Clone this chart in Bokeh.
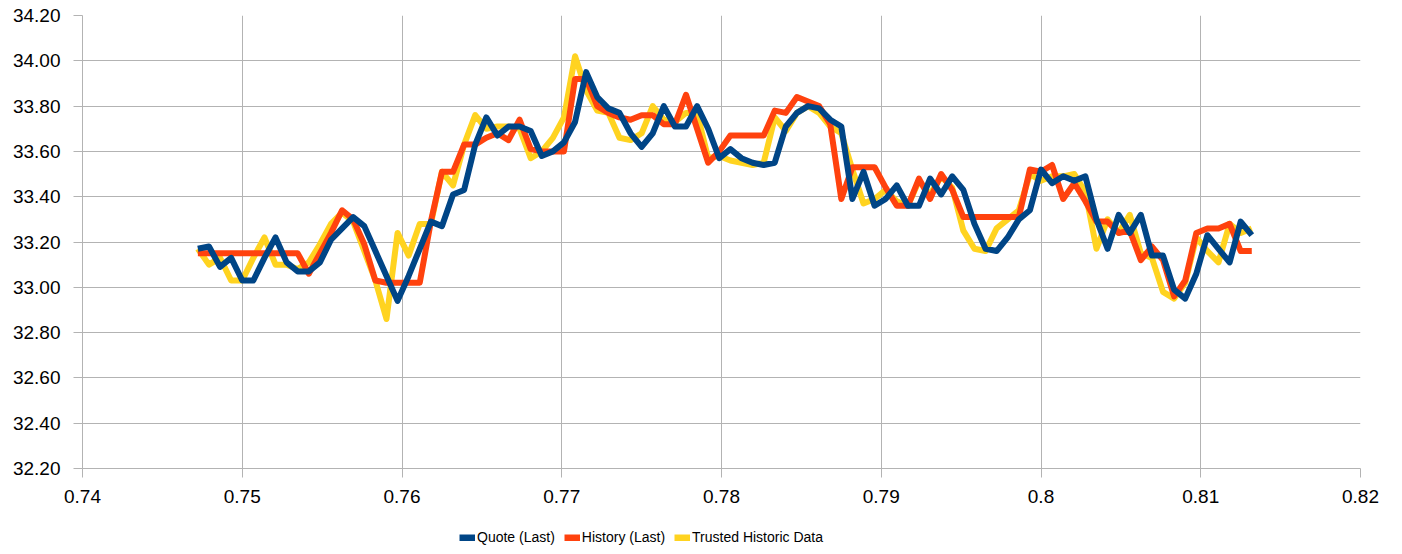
from bokeh.plotting import figure
from bokeh.layouts import column
from bokeh.models import Range1d, FixedTicker, CustomJSTickFormatter, Legend, LegendItem, ColumnDataSource
from bokeh.embed import file_html
from bokeh.resources import INLINE

# x values: fraction of day (one-minute samples)
x_vals = [0.747222, 0.747917, 0.748611, 0.749306, 0.750000, 0.750694, 0.751389, 0.752083,
          0.752778, 0.753472, 0.754167, 0.754861, 0.755556, 0.756250, 0.756944, 0.757639,
          0.758333, 0.759028, 0.759722, 0.760417, 0.761111, 0.761806, 0.762500, 0.763194,
          0.763889, 0.764583, 0.765278, 0.765972, 0.766667, 0.767361, 0.768056, 0.768750,
          0.769444, 0.770139, 0.770833, 0.771528, 0.772222, 0.772917, 0.773611, 0.774306,
          0.775000, 0.775694, 0.776389, 0.777083, 0.777778, 0.778472, 0.779167, 0.779861,
          0.780556, 0.781250, 0.781944, 0.782639, 0.783333, 0.784028, 0.784722, 0.785417,
          0.786111, 0.786806, 0.787500, 0.788194, 0.788889, 0.789583, 0.790278, 0.790972,
          0.791667, 0.792361, 0.793056, 0.793750, 0.794444, 0.795139, 0.795833, 0.796528,
          0.797222, 0.797917, 0.798611, 0.799306, 0.800000, 0.800694, 0.801389, 0.802083,
          0.802778, 0.803472, 0.804167, 0.804861, 0.805556, 0.806250, 0.806944, 0.807639,
          0.808333, 0.809028, 0.809722, 0.810417, 0.811111, 0.811806, 0.812500, 0.813194]

quote_last = [33.17, 33.18, 33.09, 33.13, 33.03, 33.03, 33.13, 33.22, 33.11, 33.07,
              33.07, 33.11, 33.21, 33.26, 33.31, 33.27, 33.16, 33.05, 32.94, 33.05,
              33.17, 33.29, 33.27, 33.41, 33.43, 33.63, 33.75, 33.67, 33.71, 33.71,
              33.69, 33.58, 33.60, 33.64, 33.73, 33.95, 33.84, 33.79, 33.77, 33.68,
              33.62, 33.68, 33.80, 33.71, 33.71, 33.80, 33.70, 33.57, 33.61, 33.57,
              33.55, 33.54, 33.55, 33.71, 33.77, 33.80, 33.79, 33.74, 33.71, 33.39,
              33.51, 33.36, 33.39, 33.45, 33.36, 33.36, 33.48, 33.41, 33.49, 33.43,
              33.28, 33.17, 33.16, 33.22, 33.30, 33.34, 33.52, 33.46, 33.49, 33.47,
              33.49, 33.30, 33.17, 33.32, 33.24, 33.32, 33.14, 33.14, 32.99, 32.95,
              33.06, 33.23, 33.17, 33.11, 33.29, 33.23]

history_last = [33.15, 33.15, 33.15, 33.15, 33.15, 33.15, 33.15, 33.15, 33.15, 33.15,
                33.06, 33.15, 33.24, 33.34, 33.30, 33.19, 33.03, 33.02, 33.02, 33.02,
                33.02, 33.29, 33.51, 33.51, 33.63, 33.63, 33.66, 33.68, 33.65, 33.74,
                33.61, 33.60, 33.60, 33.60, 33.92, 33.92, 33.80, 33.77, 33.75, 33.74,
                33.76, 33.76, 33.72, 33.72, 33.85, 33.70, 33.55, 33.60, 33.67, 33.67,
                33.67, 33.67, 33.78, 33.77, 33.84, 33.82, 33.80, 33.72, 33.39, 33.53,
                33.53, 33.53, 33.44, 33.36, 33.36, 33.48, 33.39, 33.50, 33.43, 33.31,
                33.31, 33.31, 33.31, 33.31, 33.31, 33.52, 33.51, 33.54, 33.39, 33.46,
                33.38, 33.29, 33.29, 33.24, 33.25, 33.12, 33.18, 33.12, 32.96, 33.03,
                33.24, 33.26, 33.26, 33.28, 33.16, 33.16]

trusted_hist = [33.17, 33.10, 33.13, 33.03, 33.03, 33.13, 33.22, 33.10, 33.10, 33.08,
                33.11, 33.19, 33.28, 33.33, 33.29, 33.16, 33.03, 32.86, 33.24, 33.14,
                33.28, 33.28, 33.51, 33.45, 33.63, 33.76, 33.70, 33.71, 33.71, 33.70,
                33.57, 33.60, 33.66, 33.75, 34.02, 33.87, 33.78, 33.77, 33.66, 33.65,
                33.68, 33.80, 33.74, 33.73, 33.77, 33.77, 33.57, 33.58, 33.56, 33.55,
                33.54, 33.55, 33.75, 33.69, 33.77, 33.80, 33.77, 33.71, 33.68, 33.52,
                33.37, 33.39, 33.43, 33.38, 33.36, 33.47, 33.41, 33.49, 33.44, 33.25,
                33.17, 33.16, 33.26, 33.30, 33.34, 33.50, 33.47, 33.49, 33.49, 33.50,
                33.42, 33.17, 33.30, 33.24, 33.32, 33.15, 33.13, 32.98, 32.95, 33.02,
                33.22, 33.16, 33.11, 33.28, 33.24, 33.26]

series_names = ["Quote (Last)", "History (Last)", "Trusted Historic Data"]
series_colors = ["#004586", "#ff420e", "#ffd320"]

x_ticks = [0.74, 0.75, 0.76, 0.77, 0.78, 0.79, 0.80, 0.81, 0.82]
y_ticks = [32.2, 32.4, 32.6, 32.8, 33.0, 33.2, 33.4, 33.6, 33.8, 34.0, 34.2]

FONT = "Liberation Sans"
GRID = "#b3b3b3"

p = figure(width=1400, height=520, output_backend="svg", toolbar_location=None,
           x_range=Range1d(0.74, 0.82), y_range=Range1d(32.2, 34.2),
           min_border_left=82, min_border_right=40, min_border_top=15, min_border_bottom=52)
p.outline_line_color = None
p.background_fill_color = "white"
p.border_fill_color = "white"

src = ColumnDataSource(dict(x=x_vals, q=quote_last, h=history_last, t=trusted_hist))

p.line("x", "t", source=src, line_color=series_colors[2], line_width=6, line_join="round")
p.line("x", "h", source=src, line_color=series_colors[1], line_width=6, line_join="round")
p.line("x", "q", source=src, line_color=series_colors[0], line_width=6, line_join="round")

p.xaxis.ticker = FixedTicker(ticks=x_ticks)
p.yaxis.ticker = FixedTicker(ticks=y_ticks)
p.xaxis.formatter = CustomJSTickFormatter(code="return String(Math.round(tick*100)/100);")
p.yaxis.formatter = CustomJSTickFormatter(code="return tick.toFixed(2);")

for ax in (p.xaxis[0], p.yaxis[0]):
    ax.axis_line_color = GRID
    ax.major_tick_line_color = GRID
    ax.minor_tick_line_color = None
    ax.major_tick_out = 9
    ax.major_tick_in = 0
    ax.major_label_text_font = FONT
    ax.major_label_text_font_size = "19px"
    ax.major_label_text_color = "#000000"
p.xaxis.major_label_standoff = 12
p.yaxis.major_label_standoff = 13

p.xgrid.grid_line_color = GRID
p.ygrid.grid_line_color = GRID

# legend strip below the chart
lg = figure(width=1400, height=33, output_backend="svg", toolbar_location=None,
            x_range=Range1d(0, 1), y_range=Range1d(0, 1),
            x_axis_type=None, y_axis_type=None, min_border=0)
lg.outline_line_color = None
lg.xgrid.grid_line_color = None
lg.ygrid.grid_line_color = None
# legend-only renderers, placed outside the visible range
lq = lg.line([5, 6], [5, 5], line_color=series_colors[0], line_width=7)
lh = lg.line([5, 6], [5, 5], line_color=series_colors[1], line_width=7)
lt = lg.line([5, 6], [5, 5], line_color=series_colors[2], line_width=7)

legend = Legend(items=[LegendItem(label=series_names[0], renderers=[lq]),
                       LegendItem(label=series_names[1], renderers=[lh]),
                       LegendItem(label=series_names[2], renderers=[lt])],
                location=(377, 8), orientation="horizontal",
                label_text_font=FONT, label_text_font_size="14px", label_text_color="#000000",
                glyph_width=16, glyph_height=7, label_standoff=2, spacing=9,
                padding=0, margin=0, border_line_color=None, background_fill_alpha=0,
                label_height=16)
lg.add_layout(legend)

layout = column(p, lg, spacing=0)
open("out.html", "w").write(file_html(layout, INLINE))
